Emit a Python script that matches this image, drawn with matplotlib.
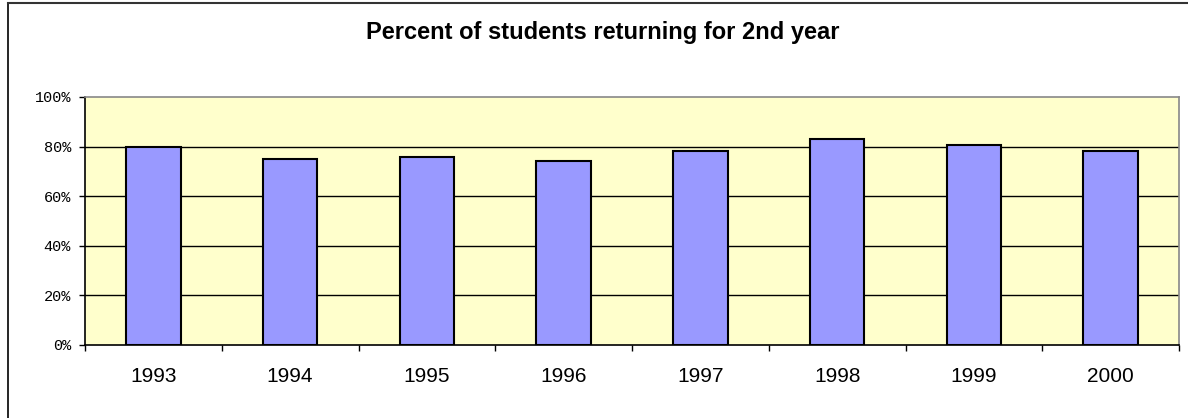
import matplotlib
matplotlib.use("Agg")
import matplotlib.pyplot as plt
import numpy as np
from matplotlib.ticker import FixedLocator, NullFormatter, FixedFormatter
from matplotlib.lines import Line2D

years = ["1993", "1994", "1995", "1996", "1997", "1998", "1999", "2000"]
pct_returning = [80.0, 74.9, 75.8, 74.2, 78.2, 83.1, 80.6, 78.1]
y_ticks = [0, 20, 40, 60, 80, 100]
y_labels = ["0%", "20%", "40%", "60%", "80%", "100%"]

fig = plt.figure(figsize=(11.88, 4.18), dpi=100)
fig.patch.set_facecolor("white")

# outer chart frame (left and top edges show in the crop)
fig.add_artist(Line2D([8 / 1188, 8 / 1188], [0, 1 - 2.5 / 418], color="black", lw=1.2,
                      transform=fig.transFigure))
fig.add_artist(Line2D([8 / 1188, 1], [1 - 2.5 / 418, 1 - 2.5 / 418], color="#333333", lw=1.5,
                      transform=fig.transFigure))

ax = fig.add_axes([85 / 1188, (418 - 345) / 418, (1179 - 85) / 1188, (345 - 97) / 418])
ax.set_facecolor("#FFFFCC")

x = np.arange(len(years))
for g in y_ticks[1:-1]:
    ax.axhline(g, color="black", lw=1, zorder=1)
ax.bar(x, pct_returning, width=0.4, color="#9999FF", edgecolor="black", linewidth=1.5, zorder=3)

ax.set_xlim(-0.5, len(years) - 0.5)
ax.set_ylim(0, 100)

for side in ["top", "right"]:
    ax.spines[side].set_color("#888888")
    ax.spines[side].set_linewidth(1.2)
for side in ["left", "bottom"]:
    ax.spines[side].set_color("black")
    ax.spines[side].set_linewidth(1.2)

# category boundaries as ticks, labels at centers
ax.xaxis.set_major_locator(FixedLocator(np.arange(len(years) + 1) - 0.5))
ax.xaxis.set_major_formatter(NullFormatter())
ax.xaxis.set_minor_locator(FixedLocator(x))
ax.xaxis.set_minor_formatter(FixedFormatter(years))
ax.tick_params(axis="x", which="major", length=4, width=1, color="black")
ax.tick_params(axis="x", which="minor", length=0, pad=16, labelsize=15)
for t in ax.get_xticklabels(minor=True):
    t.set_fontfamily("Liberation Sans")

ax.set_yticks(y_ticks)
ax.set_yticklabels(y_labels, fontfamily="Liberation Mono", fontsize=11)
ax.tick_params(axis="y", length=4, width=1, color="black", pad=6)

fig.text(603 / 1188, 1 - 33 / 418, "Percent of students returning for 2nd year",
         ha="center", va="center", fontsize=17, fontweight="bold", fontfamily="Liberation Sans")

fig.savefig("out.png", dpi=100)
